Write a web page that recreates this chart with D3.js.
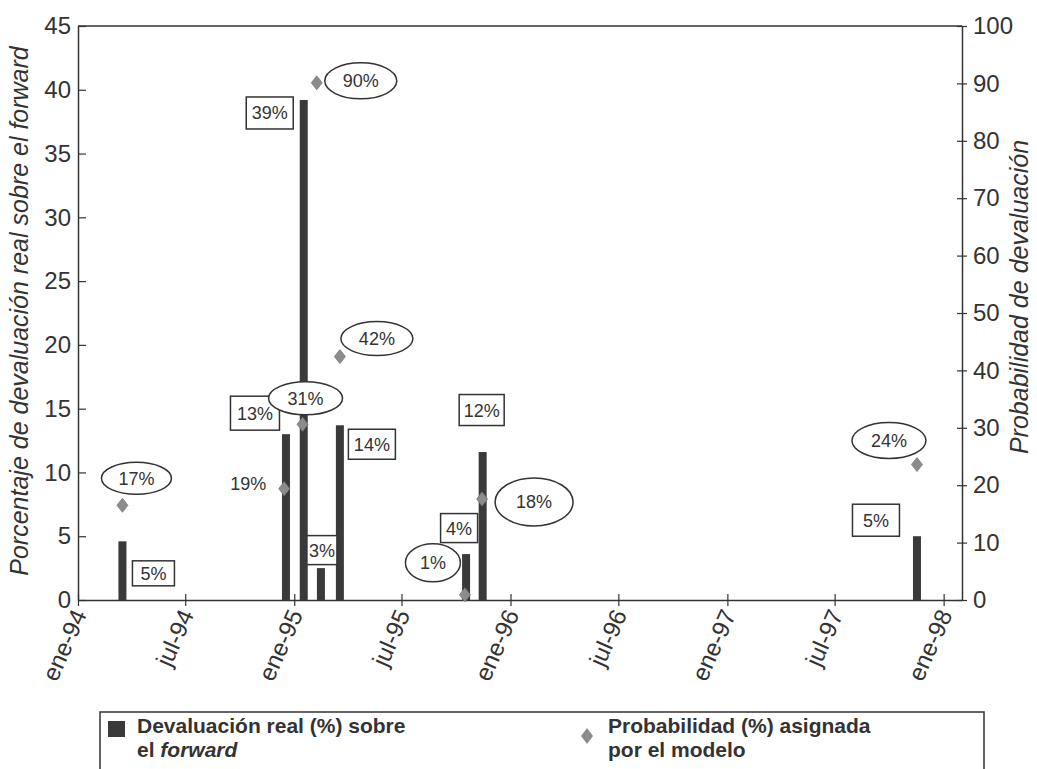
<!DOCTYPE html>
<html>
<head>
<meta charset="utf-8">
<script src="https://cdn.jsdelivr.net/npm/d3@7"></script>
<style>
  html, body { margin: 0; padding: 0; background: #fff; }
  svg { display: block; }
  text { font-family: "Liberation Sans", Arial, Helvetica, sans-serif; fill: #333; }
</style>
</head>
<body>
<svg id="chart" width="1037" height="769"></svg>
<script>
// Devaluación real sobre el forward (%) — barras, eje izquierdo
const devalDates  = ["1994-03-17", "1994-12-18", "1995-01-17", "1995-02-15", "1995-03-19", "1995-10-18", "1995-11-15", "1997-11-17"];
const devalValues = [4.6, 13.0, 39.2, 2.5, 13.7, 3.6, 11.6, 5.0];

// Probabilidad de devaluación asignada por el modelo (%) — rombos, eje derecho
const probDates  = ["1994-03-17", "1994-12-15", "1995-01-15", "1995-02-08", "1995-03-19", "1995-10-16", "1995-11-14", "1997-11-17"];
const probValues = [16.5, 19.4, 30.6, 90.1, 42.4, 0.9, 17.6, 23.6];

// Marcas del eje de tiempo
const timeTickDates  = ["1994-01-01", "1994-07-01", "1995-01-01", "1995-07-01", "1996-01-01", "1996-07-01", "1997-01-01", "1997-07-01", "1998-01-01"];
const timeTickLabels = ["ene-94", "jul-94", "ene-95", "jul-95", "ene-96", "jul-96", "ene-97", "jul-97", "ene-98"];
const leftTicks  = [0, 5, 10, 15, 20, 25, 30, 35, 40, 45];
const rightTicks = [0, 10, 20, 30, 40, 50, 60, 70, 80, 90, 100];

// Colocación de las etiquetas respecto a cada marca (desplazamientos en px)
const devalLabelLayout = [
  { dx: 31, dy: 32, w: 42, h: 25 },
  { dx: -31, dy: -21, w: 49, h: 34 },
  { dx: -34, dy: 13, w: 47, h: 32 },
  { dx: 1, dy: -18, w: 30, h: 29 },
  { dx: 32, dy: 19, w: 47, h: 30 },
  { dx: -7, dy: -26, w: 37, h: 29 },
  { dx: -1, dy: -42, w: 45, h: 31 },
  { dx: -41, dy: -16, w: 47, h: 32 }
];
const probLabelLayout = [
  { dx: 14, dy: -27, rx: 35, ry: 16, shape: "ellipse" },
  { dx: -36, dy: -5, shape: "none" },
  { dx: 3, dy: -26, rx: 37, ry: 16.5, shape: "ellipse" },
  { dx: 44, dy: -2, rx: 36, ry: 18, shape: "ellipse" },
  { dx: 37, dy: -18, rx: 36, ry: 17, shape: "ellipse" },
  { dx: -32, dy: -32, rx: 27.5, ry: 19, shape: "ellipse" },
  { dx: 52, dy: 3, rx: 39, ry: 24, shape: "ellipse" },
  { dx: -28, dy: -24, rx: 37, ry: 18, shape: "ellipse" }
];

const parse = d3.timeParse("%Y-%m-%d");
const ink = "#333";
const barColor = "#3a3a3a";
const diamondColor = "#8c8c8c";

const svg = d3.select("#chart");
const plot = { left: 78, right: 962, top: 26, bottom: 600 };

const x = d3.scaleTime()
  .domain([parse("1994-01-01"), parse("1998-02-01")])
  .range([plot.left, plot.right]);
const yL = d3.scaleLinear().domain([0, 45]).range([plot.bottom, plot.top]);
const yR = d3.scaleLinear().domain([0, 100]).range([plot.bottom, plot.top]);

const pct = v => Math.round(v) + "%";

// Marco superior
svg.append("line")
  .attr("x1", plot.left).attr("x2", plot.right)
  .attr("y1", plot.top).attr("y2", plot.top)
  .attr("stroke", ink).attr("stroke-width", 1.5);

// Eje izquierdo
const gL = svg.append("g").attr("transform", `translate(${plot.left},0)`)
  .call(d3.axisLeft(yL).tickValues(leftTicks).tickSizeInner(-8).tickSizeOuter(0).tickPadding(7));
// Eje derecho
const gR = svg.append("g").attr("transform", `translate(${plot.right},0)`)
  .call(d3.axisRight(yR).tickValues(rightTicks).tickSizeInner(5).tickSizeOuter(0).tickPadding(6));
gR.selectAll(".tick line").attr("x1", -5).attr("x2", 5);
// Eje de tiempo
const tickDates = timeTickDates.map(parse);
const gB = svg.append("g").attr("transform", `translate(0,${plot.bottom})`)
  .call(d3.axisBottom(x).tickValues(tickDates).tickSizeOuter(0).tickSizeInner(6)
    .tickFormat((d, i) => timeTickLabels[i]));
gB.selectAll(".tick line").attr("y1", -6).attr("y2", 6);
gB.selectAll(".tick text")
  .attr("text-anchor", "end")
  .attr("transform", "translate(1,11) rotate(-66)")
  .attr("dx", 0).attr("dy", "0.35em").attr("y", 0);

[gL, gR, gB].forEach(g => {
  g.select(".domain").attr("stroke", ink).attr("stroke-width", 1.5);
  g.selectAll(".tick line").attr("stroke", ink).attr("stroke-width", 1.2);
  g.selectAll(".tick text").style("font-size", "24px").attr("fill", ink)
    .style("font-family", '"Liberation Sans", Arial, sans-serif');
});

// Títulos de ejes
svg.append("text")
  .attr("transform", `translate(28,311) rotate(-90)`)
  .attr("text-anchor", "middle")
  .style("font-size", "25px").style("font-style", "italic")
  .text("Porcentaje de devaluación real sobre el forward");
svg.append("text")
  .attr("transform", `translate(1028,297) rotate(-90)`)
  .attr("text-anchor", "middle")
  .style("font-size", "25px").style("font-style", "italic")
  .text("Probabilidad de devaluación");

// Barras de devaluación
const bars = devalValues.map((v, i) => ({ date: parse(devalDates[i]), value: v, layout: devalLabelLayout[i] }));
const barW = 8;
svg.append("g").selectAll("rect").data(bars).join("rect")
  .attr("x", d => x(d.date) - barW / 2)
  .attr("width", barW)
  .attr("y", d => yL(d.value))
  .attr("height", d => yL(0) - yL(d.value))
  .attr("fill", barColor);

// Rombos de probabilidad
const probs = probValues.map((v, i) => ({ date: parse(probDates[i]), value: v, layout: probLabelLayout[i] }));
const diamond = (cx, cy, w, h) => `M${cx},${cy - h}L${cx + w},${cy}L${cx},${cy + h}L${cx - w},${cy}Z`;
svg.append("g").selectAll("path").data(probs).join("path")
  .attr("d", d => diamond(x(d.date), yR(d.value), 5.5, 7))
  .attr("fill", diamondColor).attr("stroke", "#7a7a7a").attr("stroke-width", 0.8);

// Etiquetas de barras (recuadros)
const devalLbl = svg.append("g").selectAll("g").data(bars).join("g")
  .attr("transform", d => `translate(${x(d.date) + d.layout.dx},${yL(d.value) + d.layout.dy})`);
devalLbl.append("rect")
  .attr("x", d => -d.layout.w / 2).attr("y", d => -d.layout.h / 2)
  .attr("width", d => d.layout.w).attr("height", d => d.layout.h)
  .attr("fill", "#fff").attr("stroke", ink).attr("stroke-width", 1.5);
devalLbl.append("text")
  .attr("text-anchor", "middle").attr("dy", "0.36em")
  .style("font-size", "18px")
  .text(d => pct(d.value));

// Etiquetas de probabilidad (elipses)
const probLbl = svg.append("g").selectAll("g").data(probs).join("g")
  .attr("transform", d => `translate(${x(d.date) + d.layout.dx},${yR(d.value) + d.layout.dy})`);
probLbl.filter(d => d.layout.shape === "ellipse").append("ellipse")
  .attr("rx", d => d.layout.rx).attr("ry", d => d.layout.ry)
  .attr("fill", "#fff").attr("stroke", ink).attr("stroke-width", 1.5);
probLbl.append("text")
  .attr("text-anchor", "middle").attr("dy", "0.36em")
  .style("font-size", "18px")
  .text(d => pct(d.value));

// Leyenda
const legend = svg.append("g");
legend.append("path")
  .attr("d", "M100,769V712H984V769")
  .attr("fill", "none").attr("stroke", ink).attr("stroke-width", 1.5);
const legendFont = '"Liberation Sans Narrow", "Arial Narrow", "Liberation Sans", sans-serif';
const legendText = (xPos, yPos) => legend.append("text").attr("x", xPos).attr("y", yPos)
  .style("font-family", legendFont).style("font-weight", "bold").style("font-size", "21px");
legend.append("rect").attr("x", 108).attr("y", 721).attr("width", 17).attr("height", 16).attr("fill", barColor);
legendText(137, 733).text("Devaluación real (%) sobre");
const t2 = legendText(137, 757);
t2.append("tspan").text("el ");
t2.append("tspan").style("font-style", "italic").text("forward");
legend.append("path").attr("d", diamond(587, 736, 6, 8)).attr("fill", diamondColor);
legendText(608, 733).text("Probabilidad (%) asignada");
legendText(608, 757).text("por el modelo");
</script>
</body>
</html>
